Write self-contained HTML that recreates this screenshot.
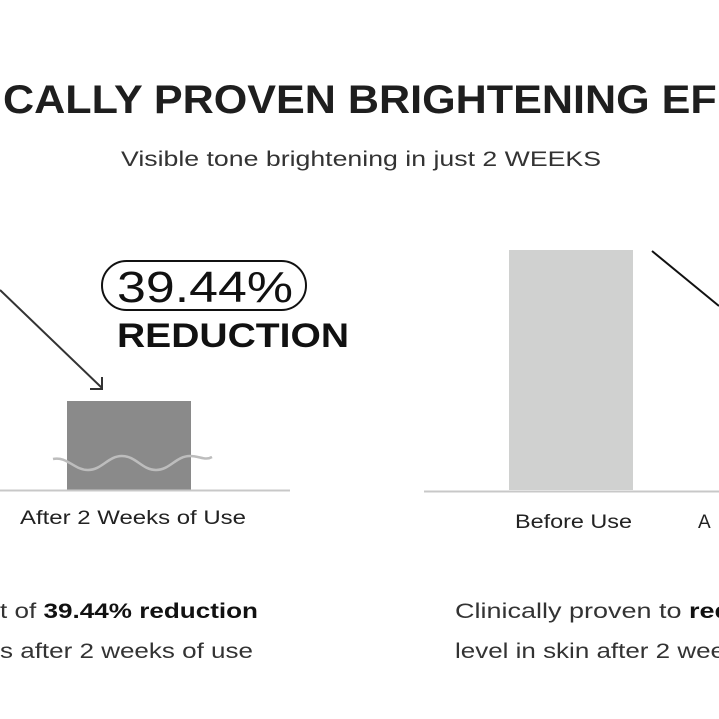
<!DOCTYPE html>
<html><head><style>
html,body{margin:0;padding:0;background:#fff;}
svg{display:block;font-family:"Liberation Sans",sans-serif;}
</style></head><body>
<svg width="719" height="719" viewBox="0 0 719 719">
<text x="3" y="113" font-size="40" font-weight="bold" fill="#1e1e1e" textLength="740" lengthAdjust="spacingAndGlyphs">CALLY PROVEN BRIGHTENING EFF</text>
<text x="121" y="166" font-size="21" fill="#333" textLength="480" lengthAdjust="spacingAndGlyphs">Visible tone brightening in just 2 WEEKS</text>
<line x1="0" y1="290" x2="102" y2="388" stroke="#333" stroke-width="2"/>
<polyline points="90,389 102,389 102,377" fill="none" stroke="#333" stroke-width="2"/>
<rect x="102" y="261" width="204" height="49" rx="24.5" fill="none" stroke="#111" stroke-width="2"/>
<text x="117" y="302" font-size="44" fill="#111" textLength="176" lengthAdjust="spacingAndGlyphs">39.44%</text>
<text x="117" y="347" font-size="34" font-weight="bold" fill="#111" textLength="232" lengthAdjust="spacingAndGlyphs">REDUCTION</text>
<rect x="67" y="401" width="124" height="89" fill="#8a8a8a"/>
<path d="M53,459 C67,456 74,470 88,470 C102,470 108,456 122,456 C136,456 142,470 156,470 C170,470 176,456 190,456 C200,456 205,461 212,457" fill="none" stroke="#bdbdbd" stroke-width="2.5"/>
<line x1="0" y1="490.5" x2="290" y2="490.5" stroke="#c8c8c8" stroke-width="2"/>
<text x="20" y="524" font-size="19" fill="#222" textLength="226" lengthAdjust="spacingAndGlyphs">After 2 Weeks of Use</text>
<rect x="509" y="250" width="124" height="240" fill="#d0d1d0"/>
<line x1="424" y1="491.5" x2="719" y2="491.5" stroke="#c8c8c8" stroke-width="2"/>
<line x1="652" y1="251" x2="719" y2="306" stroke="#111" stroke-width="2"/>
<text x="515" y="528" font-size="19" fill="#222" textLength="117" lengthAdjust="spacingAndGlyphs">Before Use</text>
<text x="698" y="528" font-size="19" fill="#222">A</text>
<text x="0" y="618" font-size="21" fill="#333" textLength="258" lengthAdjust="spacingAndGlyphs">t of <tspan font-weight="bold" fill="#111">39.44% reduction</tspan></text>
<text x="0" y="658" font-size="21" fill="#333" textLength="253" lengthAdjust="spacingAndGlyphs">s after 2 weeks of use</text>
<text x="455" y="618" font-size="21" fill="#333" textLength="276" lengthAdjust="spacingAndGlyphs">Clinically proven to <tspan font-weight="bold" fill="#111">red</tspan></text>
<text x="455" y="658" font-size="21" fill="#333" textLength="270" lengthAdjust="spacingAndGlyphs">level in skin after 2 wee</text>
</svg>
</body></html>
